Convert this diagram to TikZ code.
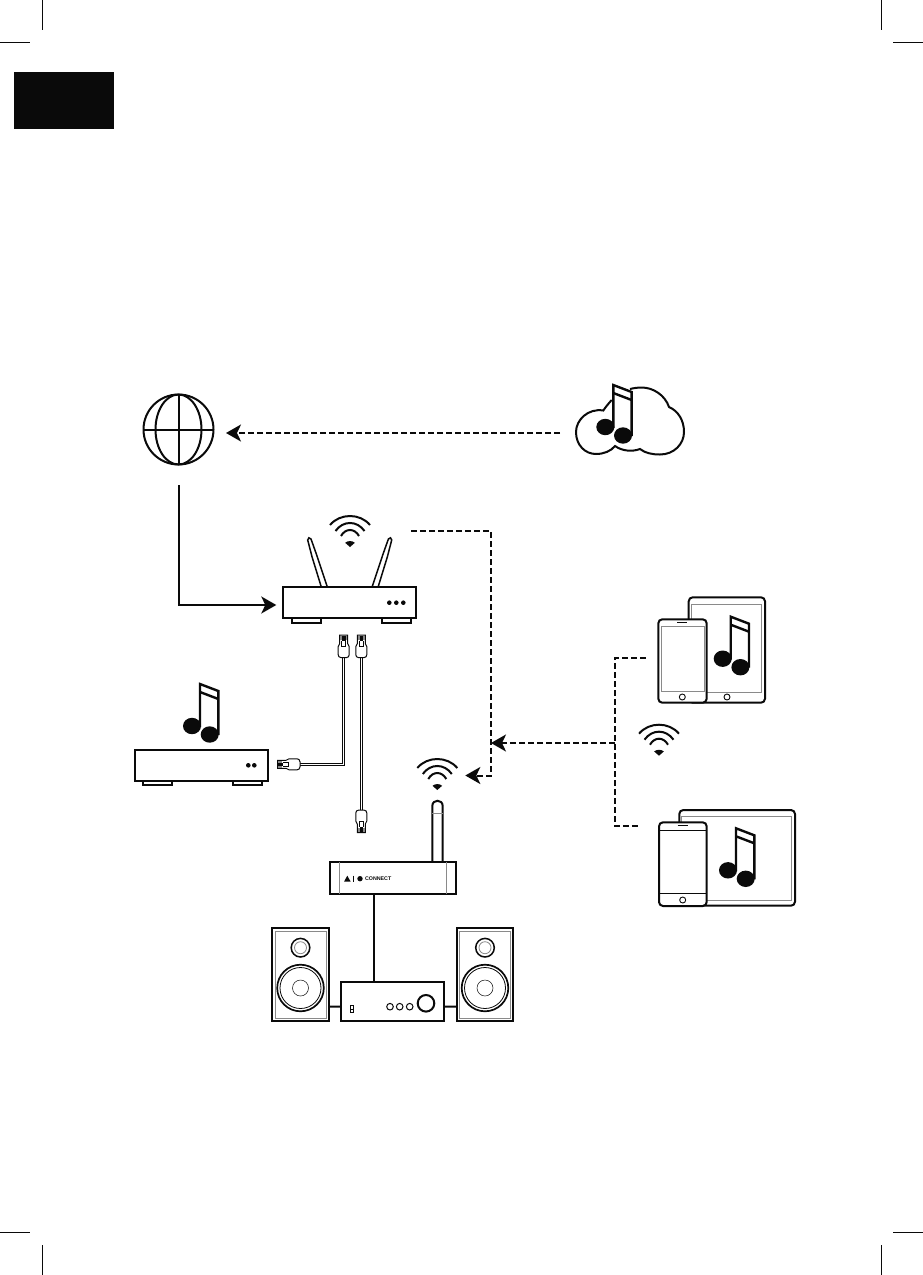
\documentclass[tikz,border=0pt]{standalone}
\usepackage{fontspec}
\setmainfont{Liberation Sans}
\usetikzlibrary{arrows.meta,shapes.geometric}
\definecolor{inkblack}{HTML}{0A0A0A}
\definecolor{thingrey}{HTML}{8A8A8A}
\tikzset{
  >={Stealth[length=15pt,width=17pt,inset=4pt]},
  devbox/.style={draw=inkblack,line width=2pt,fill=white,inner sep=0pt,outer sep=0pt,anchor=north west},
  handset/.style={devbox,rounded corners=4pt},
  footbox/.style={draw=inkblack,line width=1.8pt,fill=white},
  thinline/.style={draw=thingrey,line width=0.8pt},
  wire/.style={draw=inkblack,line width=2pt},
  dashline/.style={draw=inkblack,line width=2pt,dash pattern=on 6pt off 3pt},
  cableline/.style={draw=inkblack,line width=0.9pt,double=white,double distance=0.9pt},
  iconspot/.style={inner sep=0pt,outer sep=0pt,minimum width=40pt,minimum height=30pt},
  connectlabel/.style={inner sep=0pt,text=inkblack,font=\fontsize{5.3}{6}\selectfont\bfseries},
  musicnote/.pic={
    \fill[white] (0,0) -- (18.3,7) -- (18.3,50) -- (0,42) -- cycle;
    \draw[wire,line width=2.4pt] (0,43) -- (0,0) -- (18.3,7) -- (18.3,51);
    \draw[wire,line width=2.4pt] (0,8) -- (18.3,15);
    \fill[inkblack] (-8,42) ellipse (9 and 8.2);
    \fill[inkblack] (9.7,50.5) ellipse (9 and 8.2);
  },
  wifisign/.pic={
    \draw[wire] (-20,-22) .. controls (-10,-34) and (10,-34) .. (20,-22);
    \draw[wire] (-14.5,-16) .. controls (-7,-26.7) and (7,-26.7) .. (14.5,-16);
    \draw[wire] (-9,-11) .. controls (-4.5,-19) and (4.5,-19) .. (9,-11);
    \fill[inkblack] (-4.8,-4.2) .. controls (-2.5,-6.5) and (2.5,-6.5) .. (4.8,-4.2) -- (0,0) -- cycle;
  },
  rodantenna/.pic={
    \draw[draw=inkblack,line width=1.5pt,fill=white] (-2.7,0) -- (-12,-30.3) -- (-16.3,-47)
      .. controls (-16.5,-49.5) and (-14,-50) .. (-13,-48) -- (-7.3,-32) -- (3.3,0);
  },
  rjplug/.pic={
    \draw[draw=inkblack,line width=1pt,fill=white] (-2.5,0) -- (2.5,0) .. controls (4.5,0) and (5.5,-1.5) .. (5.5,-3)
      -- (5.5,-11) -- (4,-14) -- (4,-22.5) -- (-4,-22.5) -- (-4,-14) -- (-5.5,-11) -- (-5.5,-3)
      .. controls (-5.5,-1.5) and (-4.5,0) .. (-2.5,0) -- cycle;
    \fill[thingrey] (-3.5,-22) rectangle (3.5,-18);
    \fill[inkblack] (-1.8,-22) rectangle (1.8,-17);
    \draw[draw=inkblack,line width=0.6pt] (-2,-17) -- (-2,-11.5) -- (2,-11.5) -- (2,-17);
  },
}
\begin{document}
\begin{tikzpicture}[x=1pt,y=-1pt]
  \useasboundingbox (0,0) rectangle (923,1275);

  % crop marks and section tab
  \foreach \xa/\xb/\xc in {0/30/42.5,923/893/881.3}{
    \draw[draw=inkblack,line width=1pt] (\xa,42.5) -- (\xb,42.5);
    \draw[draw=inkblack,line width=1pt] (\xa,1232) -- (\xb,1232);
    \draw[draw=inkblack,line width=1pt] (\xc,0) -- (\xc,30);
    \draw[draw=inkblack,line width=1pt] (\xc,1245) -- (\xc,1275);
  }
  \node[fill=inkblack,inner sep=0pt,minimum width=100pt,minimum height=56.7pt,anchor=north west] (tab) at (14,72) {};

  % globe
  \node[circle,draw=inkblack,line width=2pt,inner sep=0pt,outer sep=0pt,minimum size=70pt] (globe) at (178.5,429.5) {};
  \draw[wire] (globe.center) ellipse (23 and 35);
  \draw[wire] (globe.north) -- (globe.south);
  \draw[wire] (globe.west) -- (globe.east);

  % cloud
  \node[iconspot,minimum width=108pt,minimum height=70pt] (cloud) at (630,420) {};
  \draw[wire] (611.7,400) .. controls (608,404) and (605,408) .. (603.3,410.5)
    .. controls (588,408) and (576,420) .. (576,432)
    .. controls (576,445) and (585,454) .. (596,454)
    .. controls (604,454) and (611,451) .. (615,446)
    .. controls (622,451) and (632,452) .. (640,449)
    .. controls (645,453) and (652,454.5) .. (660,454.5)
    .. controls (674,454.5) and (684,444) .. (684,432)
    .. controls (684,420) and (678,411) .. (669,407)
    .. controls (665,395) and (653,387.5) .. (641.7,387.5)
    .. controls (638,387.5) and (634,388) .. (630,389);
  \pic at (613.3,385) {musicnote};

  % router
  \pic at (324,587) {rodantenna};
  \pic[xscale=-1] at (375.4,587) {rodantenna};
  \draw[footbox] (292,618) rectangle (320.7,622.7);
  \draw[footbox] (381.7,618) rectangle (410.7,622.7);
  \node[devbox,minimum width=132.7pt,minimum height=31pt] (router) at (283.3,587.3) {};
  \foreach \dotx in {389.3,396.3,403.3}
    \fill[inkblack] (\dotx,602.7) circle (2.3);
  \node[iconspot] (wifirouter) at (350,531) {};
  \pic at (350,547) {wifisign};

  % music server
  \draw[footbox] (143.3,780) rectangle (172.3,785.3);
  \draw[footbox] (233.3,780) rectangle (262.3,785.3);
  \node[devbox,minimum width=133pt,minimum height=31pt] (server) at (134.7,750) {};
  \foreach \dotx in {248.3,254.3}
    \fill[inkblack] (\dotx,765.3) circle (2.3);
  \pic at (200,684) {musicnote};

  % wireless adapter
  \draw[draw=inkblack,line width=2pt,fill=white] (432.3,863) -- (432.3,806)
    .. controls (432.3,799) and (442.7,799) .. (442.7,806) -- (442.7,863);
  \draw[thinline] (432.3,813) -- (442.7,813);
  \node[devbox,minimum width=126pt,minimum height=31.7pt] (adapter) at (330,862.3) {};
  \draw[thinline] (339.3,862.3) -- (339.3,894);
  \draw[thinline] (446.7,862.3) -- (446.7,894);
  \fill[inkblack] (344,881.7) -- (350.7,881.7) -- (347.3,875.7) -- cycle;
  \draw[draw=inkblack,line width=0.8pt] (353.3,875.7) -- (353.3,881.7);
  \fill[inkblack] (360,878.7) circle (2.7);
  \node[connectlabel] (connectname) at (378.2,878.7) {CONNECT};
  \node[iconspot] (wifiadapter) at (437.3,775.5) {};
  \pic at (437.3,790) {wifisign};

  % amplifier and speakers
  \node[devbox,minimum width=103pt,minimum height=39pt] (amp) at (341,982) {};
  \draw[wire] (426,1003.3) circle (8.3);
  \foreach \btnx in {390,399.7,409.7}
    \draw[draw=inkblack,line width=1pt] (\btnx,1006.7) circle (3.3);
  \draw[draw=inkblack,line width=0.8pt] (350.2,1005.5) rectangle (353.2,1012.5);
  \draw[draw=inkblack,line width=0.8pt] (350.2,1009) -- (353.2,1009);
  \node[devbox,minimum width=56.4pt,minimum height=92.7pt] (speakerl) at (272.3,928.3) {};
  \node[devbox,minimum width=56.4pt,minimum height=92.7pt] (speakerr) at (456.7,928.3) {};
  \foreach \conex/\edgea/\edgeb in {300.5/275/326,485/459.2/510.5}{
    \draw[thinline] (\edgea,931) rectangle (\edgeb,1018.5);
    \draw[draw=inkblack,line width=1.5pt] (\conex,947.7) circle (9.3);
    \draw[thinline] (\conex,947.7) circle (6);
    \draw[draw=inkblack,line width=1.7pt] (\conex,988) circle (23.3);
    \draw[draw=inkblack,line width=0.8pt] (\conex,988) circle (20.5);
    \draw[draw=inkblack,line width=0.5pt] (\conex,988) circle (8);
  }

  % tablets and phones
  \node[handset,minimum width=76.3pt,minimum height=105.4pt] (tableta) at (688.7,597.3) {};
  \draw[thinline] (691.7,604) rectangle (761.7,692.7);
  \draw[draw=inkblack,line width=0.9pt] (727,697) circle (3);
  \pic at (730.7,616.7) {musicnote};
  \node[handset,minimum width=48.4pt,minimum height=83.4pt] (phonea) at (658.3,619.3) {};
  \draw[thinline] (661,626) rectangle (704,691.3);
  \draw[draw=inkblack,line width=1.4pt] (677.3,622.7) -- (687.3,622.7);
  \draw[draw=inkblack,line width=0.9pt] (682.3,697) circle (3);

  \node[handset,minimum width=115.7pt,minimum height=95.7pt] (tabletb) at (679.3,810) {};
  \draw[thinline] (681.7,816) rectangle (791.7,900.7);
  \pic at (736,828.3) {musicnote};
  \node[handset,minimum width=47.7pt,minimum height=83.7pt] (phoneb) at (659,822.3) {};
  \draw[draw=inkblack,line width=0.7pt] (659,830) -- (706.7,830);
  \draw[draw=inkblack,line width=0.7pt] (659,893.3) -- (706.7,893.3);
  \draw[draw=inkblack,line width=1.4pt] (677.7,825.7) -- (687.7,825.7);
  \draw[draw=inkblack,line width=0.9pt] (682.7,900) circle (3);
  \node[iconspot] (wifihandset) at (659,741) {};
  \pic at (659,755.7) {wifisign};

  % connectors
  \coordinate (bus) at (615,743);
  \coordinate (junction) at (491,743);
  \coordinate (cloudport) at ([yshift=-13pt]cloud.west);
  \draw[dashline,->,shorten <=16pt,shorten >=12.5pt] (cloudport) -- (globe.east |- cloudport);
  \draw[wire,->,shorten <=20.5pt,shorten >=7pt] (globe.south) |- ([yshift=-2.2pt]router.west);
  \draw[dashline,->,shorten <=41pt,shorten >=8pt] (wifirouter.east) -| (junction) |- (wifiadapter.east);
  \draw[dashline,shorten <=12.6pt,shorten >=19pt] ([yshift=3.3pt]phonea.west) -| (bus) |- ([yshift=38pt]phoneb.west);
  \draw[dashline,->] (bus) -- (junction);
  \draw[wire] ([xshift=-19.5pt]adapter.south) -- ([xshift=-19pt]amp.north);
  \draw[wire] ([yshift=-32pt]speakerl.east) -- ([yshift=-5.2pt]amp.west);
  \draw[wire] ([yshift=-32pt]speakerr.west) -- ([yshift=-5.2pt]amp.east);

  % ethernet cables
  \coordinate (plugrouter) at (343.7,657.7);
  \coordinate (plugserver) at (300,764.3);
  \coordinate (plugrouterb) at (361.3,657.7);
  \coordinate (plugadapter) at (361.3,810);
  \draw[cableline] (plugrouter) |- (plugserver);
  \draw[cableline] (plugrouterb) -- (plugadapter);
  \pic at (plugrouter) {rjplug};
  \pic at (plugrouterb) {rjplug};
  \pic[rotate=90] at (plugserver) {rjplug};
  \pic[rotate=180] at (plugadapter) {rjplug};
\end{tikzpicture}
\end{document}
